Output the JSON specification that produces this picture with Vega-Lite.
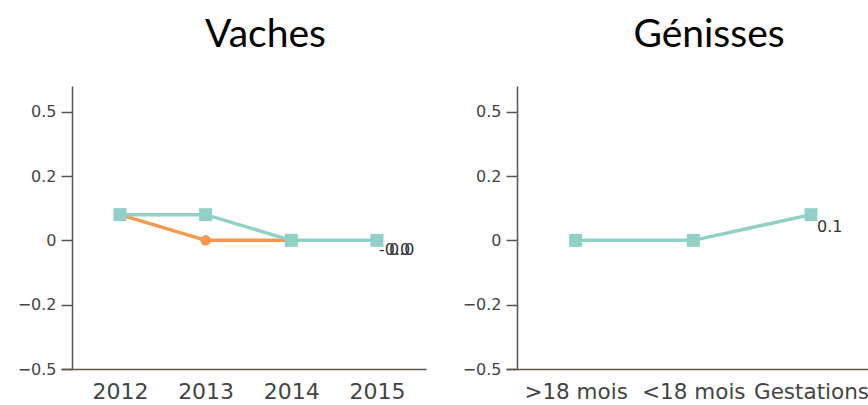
{
  "$schema": "https://vega.github.io/schema/vega-lite/v6.json",
  "padding": {"left": 17, "top": 16, "right": 0, "bottom": 0},
  "spacing": 36,
  "config": {
    "view": {"stroke": null},
    "font": "DejaVu Sans",
    "title": {"font": "Lato", "fontSize": 39, "fontWeight": "normal", "color": "#000000", "anchor": "middle", "baseline": "alphabetic", "offset": 31, "dx": 22},
    "axis": {"domainColor": "#5b524c", "tickColor": "#5b524c", "labelColor": "#444444", "grid": false, "title": null, "domainWidth": 1.5, "tickWidth": 1.5}
  },
  "datasets": {
    "vaches": [
      {"series": "Orange", "cat": "2012", "value": 0.1},
      {"series": "Orange", "cat": "2013", "value": 0},
      {"series": "Orange", "cat": "2014", "value": 0},
      {"series": "Teal", "cat": "2012", "value": 0.1},
      {"series": "Teal", "cat": "2013", "value": 0.1},
      {"series": "Teal", "cat": "2014", "value": 0},
      {"series": "Teal", "cat": "2015", "value": 0}
    ],
    "vachesLabels": [
      {"series": "Orange", "cat": "2015", "value": 0, "label": "-0.0"},
      {"series": "Teal", "cat": "2015", "value": 0, "label": "0.0"}
    ],
    "genisses": [
      {"series": "Teal", "cat": ">18 mois", "value": 0},
      {"series": "Teal", "cat": "<18 mois", "value": 0},
      {"series": "Teal", "cat": "Gestations", "value": 0.1}
    ],
    "genissesLabels": [
      {"series": "Teal", "cat": "Gestations", "value": 0.1, "label": "0.1"}
    ]
  },
  "hconcat": [
    {
      "title": "Vaches",
      "width": 365,
      "height": 283,
      "encoding": {
        "x": {"field": "cat", "type": "ordinal", "sort": ["2012", "2013", "2014", "2015"],
          "scale": {"type": "point", "padding": 0.63, "align": 0.546},
          "axis": {"labelAngle": 0, "ticks": false, "tickSize": 0, "labelPadding": 12, "labelFontSize": 22, "labelColor": "#444444"}},
        "y": {"field": "value", "type": "quantitative",
          "scale": {"domain": [-0.5, 0.6], "nice": false, "zero": false},
          "axis": {"values": [-0.5, -0.25, 0, 0.25, 0.5], "offset": -11, "tickSize": 11, "labelPadding": 5, "labelFontSize": 16,
            "labelExpr": "datum.value == 0.25 ? '0.2' : datum.value == -0.25 ? '−0.2' : datum.value == 0 ? '0' : datum.value == 0.5 ? '0.5' : '−0.5'"}}
      },
      "layer": [
        {"data": {"name": "vaches"},
          "mark": {"type": "line", "strokeWidth": 3.5},
          "encoding": {"color": {"field": "series", "type": "nominal", "scale": {"domain": ["Orange", "Teal"], "range": ["#f5974c", "#90d0c6"]}, "legend": null}}},
        {"data": {"name": "vaches"},
          "mark": {"type": "point", "filled": true, "opacity": 1},
          "encoding": {
            "color": {"field": "series", "type": "nominal", "scale": {"domain": ["Orange", "Teal"], "range": ["#f5974c", "#90d0c6"]}, "legend": null},
            "shape": {"field": "series", "type": "nominal", "scale": {"domain": ["Orange", "Teal"], "range": ["circle", "square"]}, "legend": null},
            "size": {"field": "series", "type": "nominal", "scale": {"domain": ["Orange", "Teal"], "range": [110, 169]}, "legend": null}
          }},
        {"data": {"name": "vachesLabels"},
          "transform": [{"filter": "datum.series == 'Orange'"}],
          "mark": {"type": "text", "align": "left", "baseline": "middle", "dx": 2, "dy": 10, "fontSize": 16, "color": "#333333"},
          "encoding": {"text": {"field": "label"}}},
        {"data": {"name": "vachesLabels"},
          "transform": [{"filter": "datum.series == 'Teal'"}],
          "mark": {"type": "text", "align": "left", "baseline": "middle", "dx": 12, "dy": 10, "fontSize": 16, "color": "#333333"},
          "encoding": {"text": {"field": "label"}}}
      ]
    },
    {
      "title": "Génisses",
      "width": 362,
      "height": 283,
      "encoding": {
        "x": {"field": "cat", "type": "ordinal", "sort": [">18 mois", "<18 mois", "Gestations"],
          "scale": {"type": "point", "padding": 0.538, "align": 0.55},
          "axis": {"labelAngle": 0, "ticks": false, "tickSize": 0, "labelPadding": 12, "labelFontSize": 21.5, "labelColor": "#444444"}},
        "y": {"field": "value", "type": "quantitative",
          "scale": {"domain": [-0.5, 0.6], "nice": false, "zero": false},
          "axis": {"values": [-0.5, -0.25, 0, 0.25, 0.5], "offset": -11, "tickSize": 11, "labelPadding": 5, "labelFontSize": 16,
            "labelExpr": "datum.value == 0.25 ? '0.2' : datum.value == -0.25 ? '−0.2' : datum.value == 0 ? '0' : datum.value == 0.5 ? '0.5' : '−0.5'"}}
      },
      "layer": [
        {"data": {"name": "genisses"},
          "mark": {"type": "line", "strokeWidth": 3.5, "color": "#90d0c6"},
          "encoding": {}},
        {"data": {"name": "genisses"},
          "mark": {"type": "point", "filled": true, "opacity": 1, "shape": "square", "size": 169, "color": "#90d0c6"},
          "encoding": {}},
        {"data": {"name": "genissesLabels"},
          "mark": {"type": "text", "align": "left", "baseline": "middle", "dx": 6, "dy": 12, "fontSize": 16, "color": "#333333"},
          "encoding": {"text": {"field": "label"}}}
      ]
    }
  ]
}
